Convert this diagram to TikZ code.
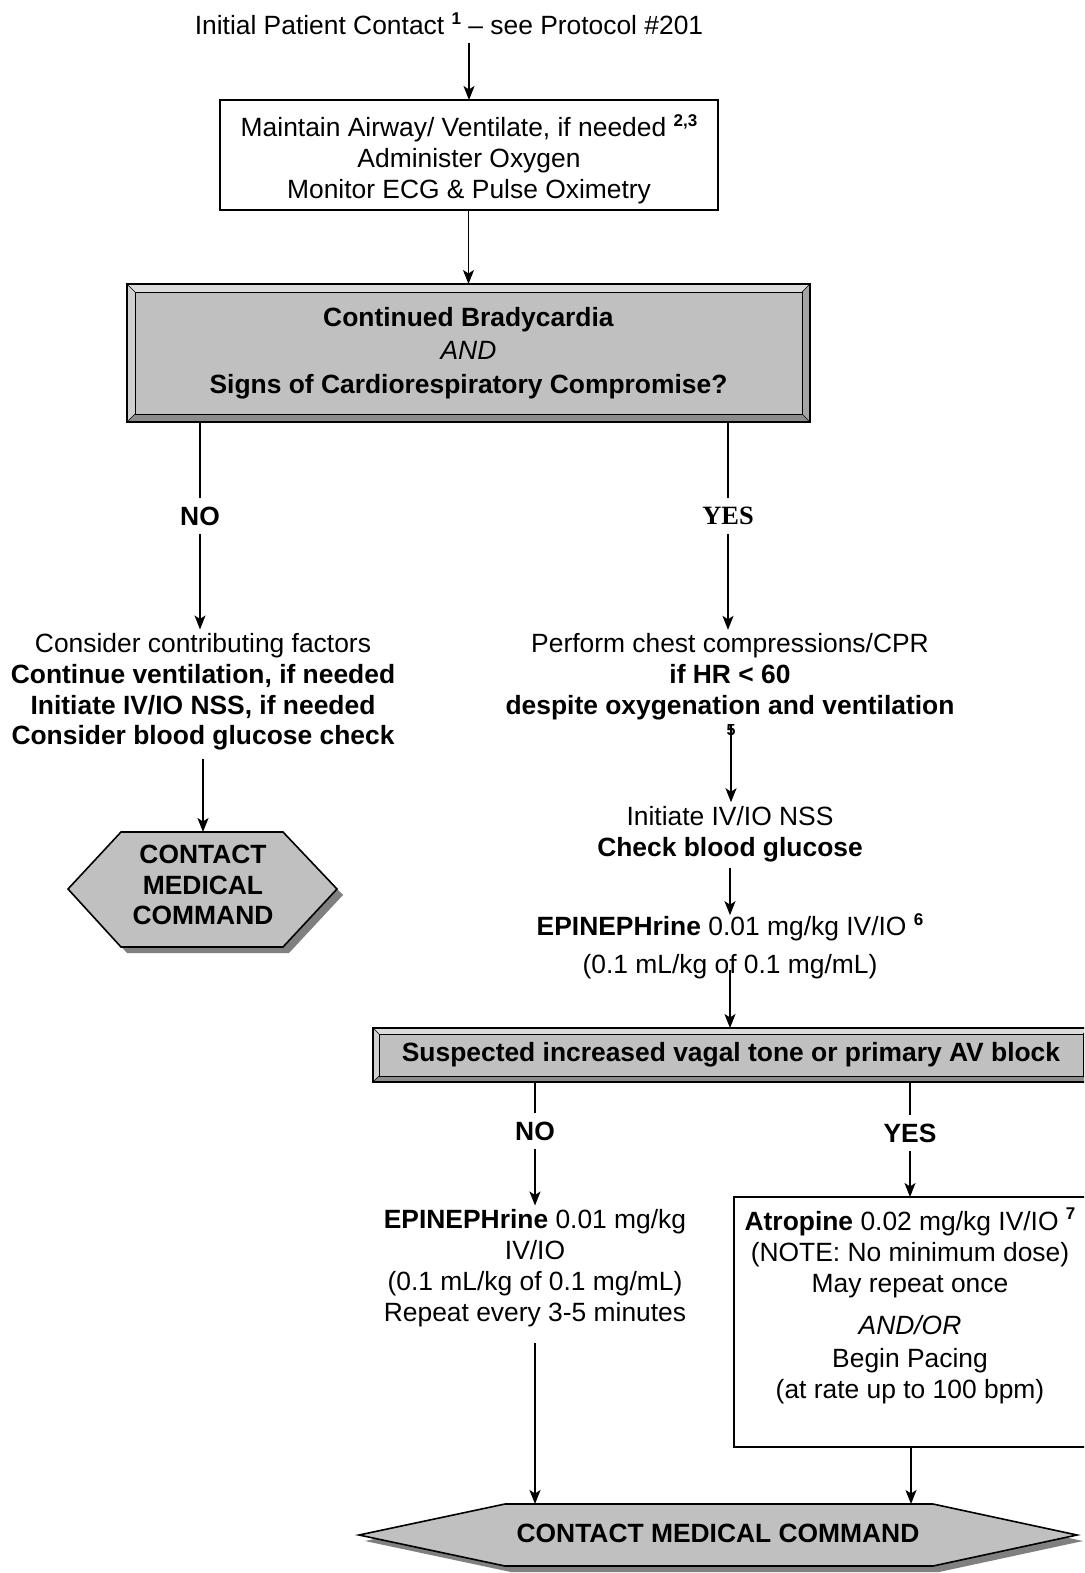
\documentclass[tikz,border=0pt]{standalone}
\usepackage{fontspec}
\setmainfont{Liberation Sans}
\newfontfamily\yesfont{Liberation Serif}
\usetikzlibrary{arrows.meta,shadows,calc}
\definecolor{boxgray}{HTML}{C0C0C0}
\definecolor{bevlight}{HTML}{DCDCDC}
\definecolor{bevleft}{HTML}{D0D0D0}
\definecolor{bevdark}{HTML}{8C8C8C}
\definecolor{bevright}{HTML}{A4A4A4}
\definecolor{shadowgray}{HTML}{808080}
\newcommand\fnsup[1]{\raisebox{0.4em}{\fontsize{17}{17}\selectfont\bfseries #1}}
\tikzset{
  every node/.style={inner sep=0pt, outer sep=0pt},
  txt/.style={align=center, font=\fontsize{26.4}{30.8}\selectfont},
  btxt/.style={align=center, font=\fontsize{26.4}{30.8}\selectfont\bfseries},
  lbl/.style={font=\fontsize{26.4}{30.8}\selectfont\bfseries, inner sep=9pt},
  conn/.style={line width=1.6pt},
  arr/.style={conn, -{Stealth[length=14pt,width=11pt,inset=3.5pt]}},
  plainbox/.style={draw, line width=1.6pt, fill=white},
  hexshape/.style={draw, line width=1.6pt, fill=boxgray,
    drop shadow={shadow xshift=6pt, shadow yshift=-6pt, fill=shadowgray, opacity=1}},
  bevelbox/.style={draw=black, line width=1.8pt, fill=boxgray,
    path picture={
      \coordinate (bNW) at (path picture bounding box.north west);
      \coordinate (bNE) at (path picture bounding box.north east);
      \coordinate (bSW) at (path picture bounding box.south west);
      \coordinate (bSE) at (path picture bounding box.south east);
      \fill[bevlight] (bNW) -- (bNE) -- ([shift={(-#1,-#1)}]bNE) -- ([shift={(#1,-#1)}]bNW) -- cycle;
      \fill[bevleft] (bNW) -- (bSW) -- ([shift={(#1,#1)}]bSW) -- ([shift={(#1,-#1)}]bNW) -- cycle;
      \fill[bevdark] (bSW) -- (bSE) -- ([shift={(-#1,#1)}]bSE) -- ([shift={(#1,#1)}]bSW) -- cycle;
      \fill[bevright] (bNE) -- (bSE) -- ([shift={(-#1,#1)}]bSE) -- ([shift={(-#1,-#1)}]bNE) -- cycle;
      \draw[line width=0.9pt] ([shift={(#1,-#1)}]bNW) rectangle ([shift={(-#1,#1)}]bSE);
      \draw[line width=0.6pt] (bNW) -- ([shift={(#1,-#1)}]bNW)
        (bNE) -- ([shift={(-#1,-#1)}]bNE)
        (bSW) -- ([shift={(#1,#1)}]bSW)
        (bSE) -- ([shift={(-#1,#1)}]bSE);
    }},
}
\begin{document}
\begin{tikzpicture}[x=1pt,y=-1pt]
\useasboundingbox (0,0) rectangle (1084,1573);
\fill[white] (0,0) rectangle (1084,1573);
\clip (0,0) rectangle (1084,1573);

% top
\node[txt] (title) at (449,24) {Initial Patient Contact \fnsup{1} – see Protocol \#201};
\node[plainbox, minimum width=498pt, minimum height=110pt] (box1) at (469,155) {};
\node[txt] (box1t) at (469,159)
  {Maintain Airway/ Ventilate, if needed \fnsup{2,3}\\Administer Oxygen\\Monitor ECG \& Pulse Oximetry};
\node[bevelbox=8pt, txt, minimum width=683pt, minimum height=138pt] (dec) at (468.5,353)
  {\textbf{Continued Bradycardia}\\[2pt]\textit{AND}\\[3pt]\textbf{Signs of Cardiorespiratory Compromise?}};

% left branch
\node[lbl] (no1) at (200,516) {NO};
\node[txt] (cons) at (203,692) {Consider contributing factors\\\textbf{Continue ventilation, if needed}\\\textbf{Initiate IV/IO NSS, if needed}\\\textbf{Consider blood glucose check}};
\filldraw[hexshape] (121,832) -- (283,832) -- (337,889) -- (283,947) -- (121,947) -- (68,889) -- cycle;
\coordinate (hLtop) at (203,832);
\node[btxt] (cmcL) at (203,885) {CONTACT\\MEDICAL\\COMMAND};

% right branch
\node[lbl, font=\fontsize{26.4}{30.8}\selectfont\yesfont\bfseries] (yes1) at (728,516) {YES};
\node[txt] (cpr) at (730,677) {Perform chest compressions/CPR\\\textbf{if HR < 60}\\\textbf{despite oxygenation and ventilation}};
\node[font=\fontsize{16}{16}\selectfont\bfseries] (fn5) at (731,730) {5};
\node[txt] (init) at (730,834) {Initiate IV/IO NSS\\\textbf{Check blood glucose}};
\node[txt] (epi) at (730,946) {\textbf{EPINEPHrine} 0.01 mg/kg IV/IO \fnsup{6}\\[7pt](0.1 mL/kg of 0.1 mg/mL)};
\node[bevelbox=6pt, btxt, minimum width=716pt, minimum height=54pt] (sus) at (731,1055)
  {Suspected increased vagal tone or primary AV block};

% lower branches
\node[lbl] (no2) at (535,1131) {NO};
\node[lbl] (yes2) at (910,1133) {YES};
\node[txt] (epi2) at (535,1268) {\textbf{EPINEPHrine} 0.01 mg/kg\\IV/IO\\(0.1 mL/kg of 0.1 mg/mL)\\Repeat every 3-5 minutes};
\node[plainbox, minimum width=354pt, minimum height=250pt] (atrobox) at (911,1322) {};
\node[txt] (atrotext) at (910,1306) {\textbf{Atropine} 0.02 mg/kg IV/IO \fnsup{7}\\(NOTE: No minimum dose)\\May repeat once\\[12pt]\textit{AND/OR}\\[2pt]Begin Pacing\\(at rate up to 100 bpm)};

\filldraw[hexshape] (505,1504) -- (933,1504) -- (1077,1535) -- (933,1566) -- (505,1566) -- (359,1535) -- cycle;
\coordinate (hBl) at (535,1504);
\coordinate (hBr) at (911,1504);
\node[btxt] (cmcB) at (718,1533) {CONTACT MEDICAL COMMAND};

% connectors
\draw[arr] ($(box1.north |- title.south)+(0,8)$) -- (box1.north);
\draw[arr] (box1.south) -- (box1.south -| dec.north) -- (dec.north);
\draw[conn] (no1.north |- dec.south) -- (no1.north);
\draw[arr] (no1.south) -- ($(no1.south |- cons.north)+(0,-4)$);
\draw[conn] (yes1.north |- dec.south) -- (yes1.north);
\draw[arr] (yes1.south) -- ($(yes1.south |- cpr.north)+(0,-4)$);
\draw[arr] (fn5.north) -- ($(fn5.north |- init.north)+(0,-4)$);
\draw[arr] ([yshift=-6pt]init.south) -- ($(init.south |- epi.north)+(0,2)$);
\draw[arr] ([yshift=9pt]epi.south) -- (epi.south |- sus.north);
\draw[conn] (no2.north |- sus.south) -- (no2.north);
\draw[arr] (no2.south) -- ($(no2.south |- epi2.north)+(0,-4)$);
\draw[conn] (yes2.north |- sus.south) -- (yes2.north);
\draw[arr] (yes2.south) -- (yes2.south |- atrobox.north);
\draw[arr] ([yshift=-16pt]epi2.south) -- (hBl);
\draw[arr] (atrobox.south) -- (hBr);
\draw[arr] ([yshift=-8pt]cons.south) -- (hLtop);
\end{tikzpicture}
\end{document}
